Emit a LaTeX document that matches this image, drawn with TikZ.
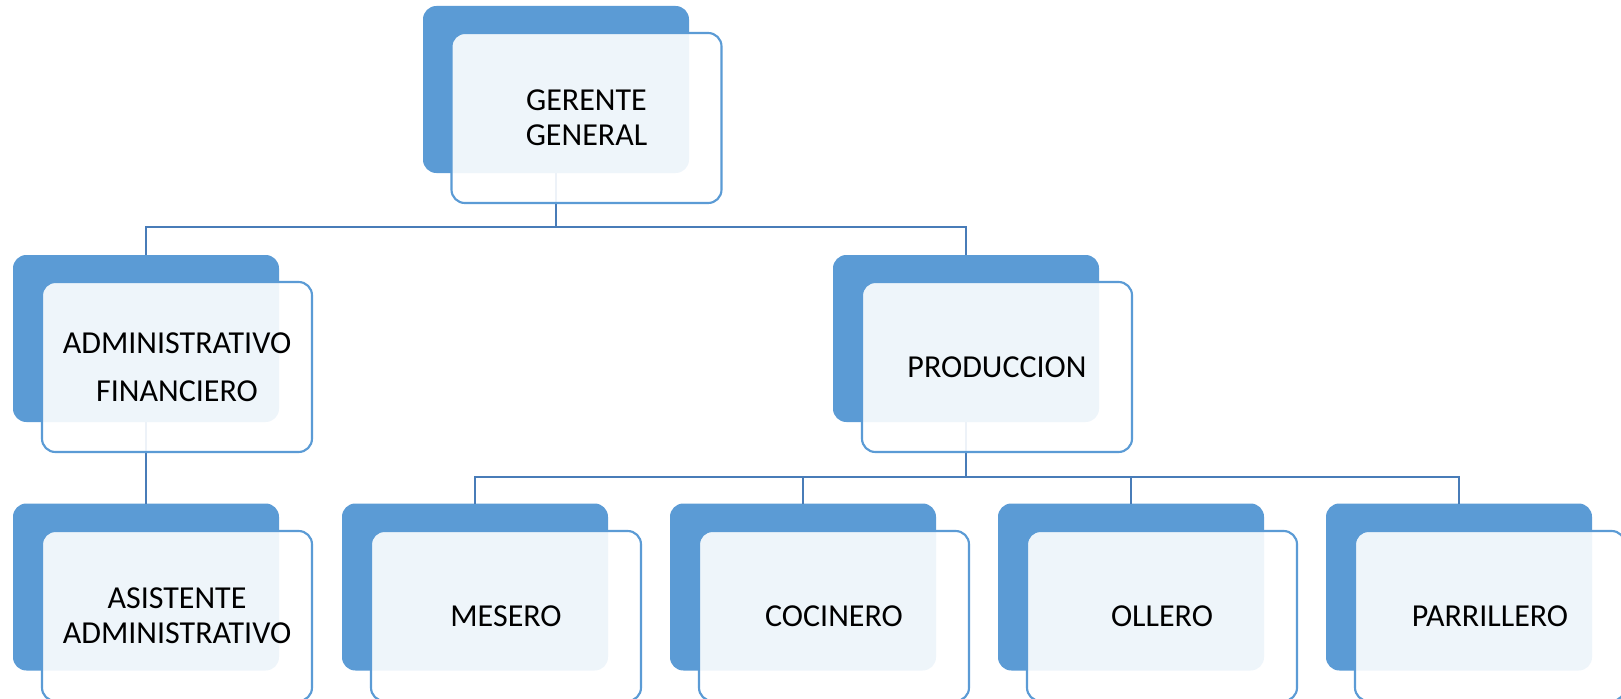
\documentclass[tikz,border=0pt]{standalone}
\usepackage{fontspec}
\setmainfont{Carlito}
\definecolor{boxblue}{RGB}{91,155,213}
\definecolor{linkblue}{RGB}{72,124,184}
\begin{document}
\begin{tikzpicture}[x=0.75pt,y=-0.75pt,
  backbox/.style={fill=boxblue, rounded corners=10pt, minimum width=199.5pt,
    minimum height=125.25pt, inner sep=0pt, outer sep=0pt},
  frontbox/.style={draw=boxblue, line width=1.6pt, fill=white, fill opacity=0.9,
    text opacity=1, rounded corners=10pt, minimum width=202.5pt,
    minimum height=127.5pt, inner sep=0pt, align=center,
    font=\fontsize{24}{26}\selectfont},
  link/.style={draw=linkblue, line width=1.6pt}]
\useasboundingbox (0,0) rectangle (1621,699);

% coloured back plates
\node[backbox] (gb) at (556,89.5) {};
\node[backbox] (ab) at (146,338.5) {};
\node[backbox] (pb) at (966,338.5) {};
\node[backbox] (sb) at (146,587) {};
\node[backbox] (mb) at (475,587) {};
\node[backbox] (cb) at (803,587) {};
\node[backbox] (ob) at (1131,587) {};
\node[backbox] (rb) at (1459,587) {};

% connectors between the plates
\draw[link] (gb.south) -- ++(0,54) coordinate (busA) -| (ab.north);
\draw[link] (busA) -| (pb.north);
\draw[link] (ab.south) -- (sb.north);
\draw[link] (pb.south) -- ++(0,55) coordinate (busB) -| (mb.north);
\draw[link] (busB) -| (cb.north);
\draw[link] (busB) -| (ob.north);
\draw[link] (busB) -| (rb.north);

% translucent text cards
\node[frontbox] (g) at (586.5,118) {GERENTE\\GENERAL};
\node[frontbox] (a) at (177,367) {ADMINISTRATIVO\\[10pt]FINANCIERO};
\node[frontbox] (p) at (997,367) {PRODUCCION};
\node[frontbox] (s) at (177,616) {ASISTENTE\\ADMINISTRATIVO};
\node[frontbox] (m) at (506,616) {MESERO};
\node[frontbox] (c) at (834,616) {COCINERO};
\node[frontbox] (o) at (1162,616) {OLLERO};
\node[frontbox] (r) at (1490,616) {PARRILLERO};
\end{tikzpicture}
\end{document}
